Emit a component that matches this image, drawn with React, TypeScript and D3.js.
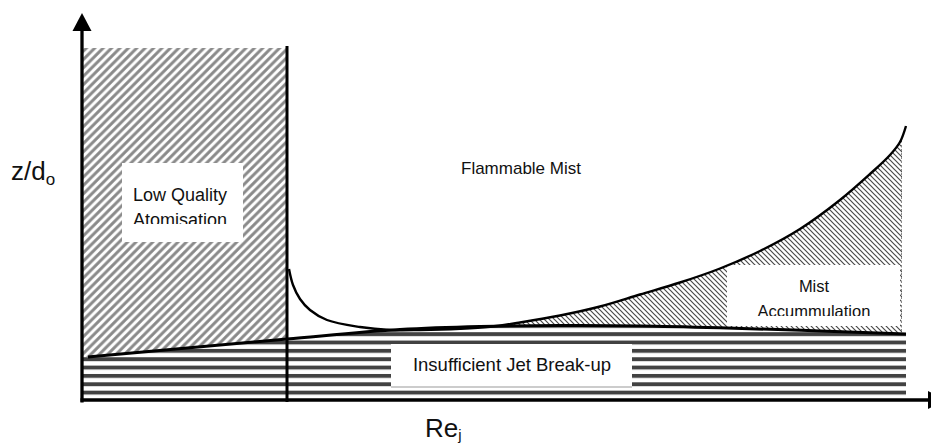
import React from "react";
import * as d3 from "d3";

// Schematic regime map: z/d_o versus Re_j (arbitrary units)
const lowerBoundaryRe = [6, 205, 318, 398, 478, 558, 645, 738, 824];
const lowerBoundaryZ = [43, 61, 70.5, 73.5, 74.5, 74, 72, 69, 66];
const mistBoundaryRe = [207, 211, 218, 228, 245, 278, 308, 338, 378, 408, 438, 478, 518, 558, 598, 638, 678, 718, 758, 788, 808, 818, 824];
const mistBoundaryZ = [131, 115, 101, 90, 80, 73, 70, 70, 71.2, 73.2, 77.5, 84.5, 93.5, 105.5, 117.5, 131.5, 149, 171, 200, 226, 245, 258, 274];
const atomisationLimitRe = [205];
const regionTopZ = [352];
const mistEndRe = [820];
const jetEndRe = [824];
const axisLabels = ["z/d", "o", "Re", "j"];
const regionLabels = ["Low Quality", "Atomisation", "Flammable Mist", "Mist", "Accummulation", "Insufficient Jet Break-up"];

const W = 931;
const H = 445;
const FONT = "'Liberation Sans', Arial, Helvetica, sans-serif";

export default function App() {
  const x = d3.scaleLinear().domain([0, 840]).range([82, 922]);
  const y = d3.scaleLinear().domain([0, 387]).range([400, 13]);

  const lower: [number, number][] = lowerBoundaryRe.map((r, i) => [r, lowerBoundaryZ[i]]);
  const upper: [number, number][] = mistBoundaryRe.map((r, i) => [r, mistBoundaryZ[i]]);

  const smooth = d3.curveCatmullRom.alpha(0.5);

  const lowerLine = d3
    .line<[number, number]>()
    .x((d) => x(d[0]))
    .y((d) => y(d[1]))
    .curve(d3.curveMonotoneX);
  const upperLine = d3
    .line<[number, number]>()
    .x((d) => x(d[0]))
    .y((d) => y(d[1]))
    .curve(smooth);
  const areaAboveLower = d3
    .area<[number, number]>()
    .x((d) => x(d[0]))
    .y0((d) => y(d[1]))
    .y1(0)
    .curve(d3.curveMonotoneX);
  const areaBelowLower = d3
    .area<[number, number]>()
    .x((d) => x(d[0]))
    .y0((d) => y(d[1]))
    .y1(H)
    .curve(d3.curveMonotoneX);
  const areaBelowUpper = d3
    .area<[number, number]>()
    .x((d) => x(d[0]))
    .y0((d) => y(d[1]))
    .y1(H)
    .curve(smooth);

  const x0 = x(0);
  const y0 = y(0);
  const xLim = x(atomisationLimitRe[0]);
  const yTop = y(regionTopZ[0]);
  const lx0 = x(lower[0][0]);
  const ly0 = y(lower[0][1]);

  const s1 = 8.4; // diagonal hatch period
  const s2 = 5.0; // fine hatch period

  return (
    <svg
      width={W}
      height={H}
      viewBox={`0 0 ${W} ${H}`}
      style={{ position: "fixed", left: 0, top: 0, background: "#fff", fontFamily: FONT }}
    >
      <defs>
        <pattern id="diag" patternUnits="userSpaceOnUse" width={s1} height={s1}>
          <path
            d={`M0,${s1} L${s1},0 M-2,2 L2,-2 M${s1 - 2},${s1 + 2} L${s1 + 2},${s1 - 2}`}
            stroke="#8a8a8a"
            strokeWidth={3}
          />
        </pattern>
        <pattern id="fine" patternUnits="userSpaceOnUse" width={s2} height={s2}>
          <path
            d={`M-1,-1 L${s2 + 1},${s2 + 1} M${s2 - 1},-1 L${s2 + 1},1 M-1,${s2 - 1} L1,${s2 + 1}`}
            stroke="#4a4a4a"
            strokeWidth={1.2}
          />
        </pattern>
        <pattern id="stripes" patternUnits="userSpaceOnUse" x={0} y={332.2} width={10} height={8.35}>
          <rect x={0} y={0} width={10} height={3.9} fill="#424242" />
        </pattern>
        <clipPath id="aboveLower">
          <path d={areaAboveLower(lower) || ""} />
          <rect x={x0} y={0} width={lx0 - x0 + 0.5} height={ly0} />
        </clipPath>
        <clipPath id="belowLower">
          <path d={areaBelowLower(lower) || ""} />
          <rect x={x0} y={ly0} width={lx0 - x0 + 0.5} height={H - ly0} />
        </clipPath>
        <clipPath id="mistX">
          <rect x={x(398)} y={0} width={x(mistEndRe[0]) - x(398)} height={H} />
        </clipPath>
        <clipPath id="lqText">
          <rect x={122} y={163} width={121} height={61} />
        </clipPath>
        <clipPath id="maText">
          <rect x={727} y={265} width={173} height={51} />
        </clipPath>
      </defs>

      {/* Insufficient jet break-up stripes */}
      <rect
        x={x0 + 1}
        y={y(110)}
        width={x(jetEndRe[0]) - x0 - 1}
        height={y0 - y(110)}
        fill="url(#stripes)"
        clipPath="url(#belowLower)"
      />

      {/* Low quality atomisation hatch */}
      <rect
        x={x0 + 1}
        y={yTop}
        width={xLim - x0 - 1}
        height={y0 - yTop}
        fill="url(#diag)"
        clipPath="url(#aboveLower)"
      />

      {/* Mist accumulation hatch */}
      <g clipPath="url(#mistX)">
        <path d={areaBelowUpper(upper) || ""} fill="url(#fine)" clipPath="url(#aboveLower)" />
      </g>
      <line
        x1={x(mistEndRe[0]) - 0.5}
        x2={x(mistEndRe[0]) - 0.5}
        y1={y(255)}
        y2={y(66)}
        stroke="#888"
        strokeWidth={1}
        strokeDasharray="2,2"
      />

      {/* Label boxes */}
      <rect x={122} y={163} width={121} height={79} fill="#fff" />
      <g clipPath="url(#lqText)" fontSize={18} fill="#111">
        <text x={133} y={201}>{regionLabels[0]}</text>
        <text x={133} y={226}>{regionLabels[1]}</text>
      </g>

      <text x={461} y={174} fontSize={17} fill="#111">
        {regionLabels[2]}
      </text>

      <rect x={727} y={265} width={173} height={61} fill="#fff" />
      <g clipPath="url(#maText)" fontSize={16.5} fill="#111" textAnchor="middle">
        <text x={814} y={292}>{regionLabels[3]}</text>
        <text x={814} y={316.5}>{regionLabels[4]}</text>
      </g>

      <rect x={391} y={344} width={241} height={43} fill="#fff" />
      <line x1={391} x2={632} y1={387} y2={387} stroke="#999" strokeWidth={1} />
      <text x={512} y={371} fontSize={18.5} fill="#111" textAnchor="middle">
        {regionLabels[5]}
      </text>

      {/* Boundaries */}
      <path d={lowerLine(lower) || ""} fill="none" stroke="#000" strokeWidth={3} />
      <path d={upperLine(upper) || ""} fill="none" stroke="#000" strokeWidth={2.4} />
      <line x1={xLim} x2={xLim} y1={yTop - 2} y2={y0 + 2} stroke="#000" strokeWidth={3} />

      {/* Axes */}
      <line x1={x0} x2={x0} y1={y(370)} y2={y0 + 2.5} stroke="#000" strokeWidth={3.3} />
      <polygon
        points={`${x0},${y(387)} ${x0 - 9.5},${y(369)} ${x0 + 9.5},${y(369)}`}
        fill="#000"
      />
      <line x1={x0 - 1.5} x2={x(846)} y1={y0} y2={y0} stroke="#000" strokeWidth={3.3} />
      <polygon points={`${x(846)},${y0 - 9} ${x(846)},${y0 + 9} ${x(864)},${y0}`} fill="#000" />

      {/* Axis labels */}
      <text x={11} y={180} fontSize={26} fill="#111">
        {axisLabels[0]}
        <tspan fontSize={17} dy={5}>
          {axisLabels[1]}
        </tspan>
      </text>
      <text x={425} y={437} fontSize={26} fill="#111">
        {axisLabels[2]}
        <tspan fontSize={15} dy={3}>
          {axisLabels[3]}
        </tspan>
      </text>
    </svg>
  );
}
